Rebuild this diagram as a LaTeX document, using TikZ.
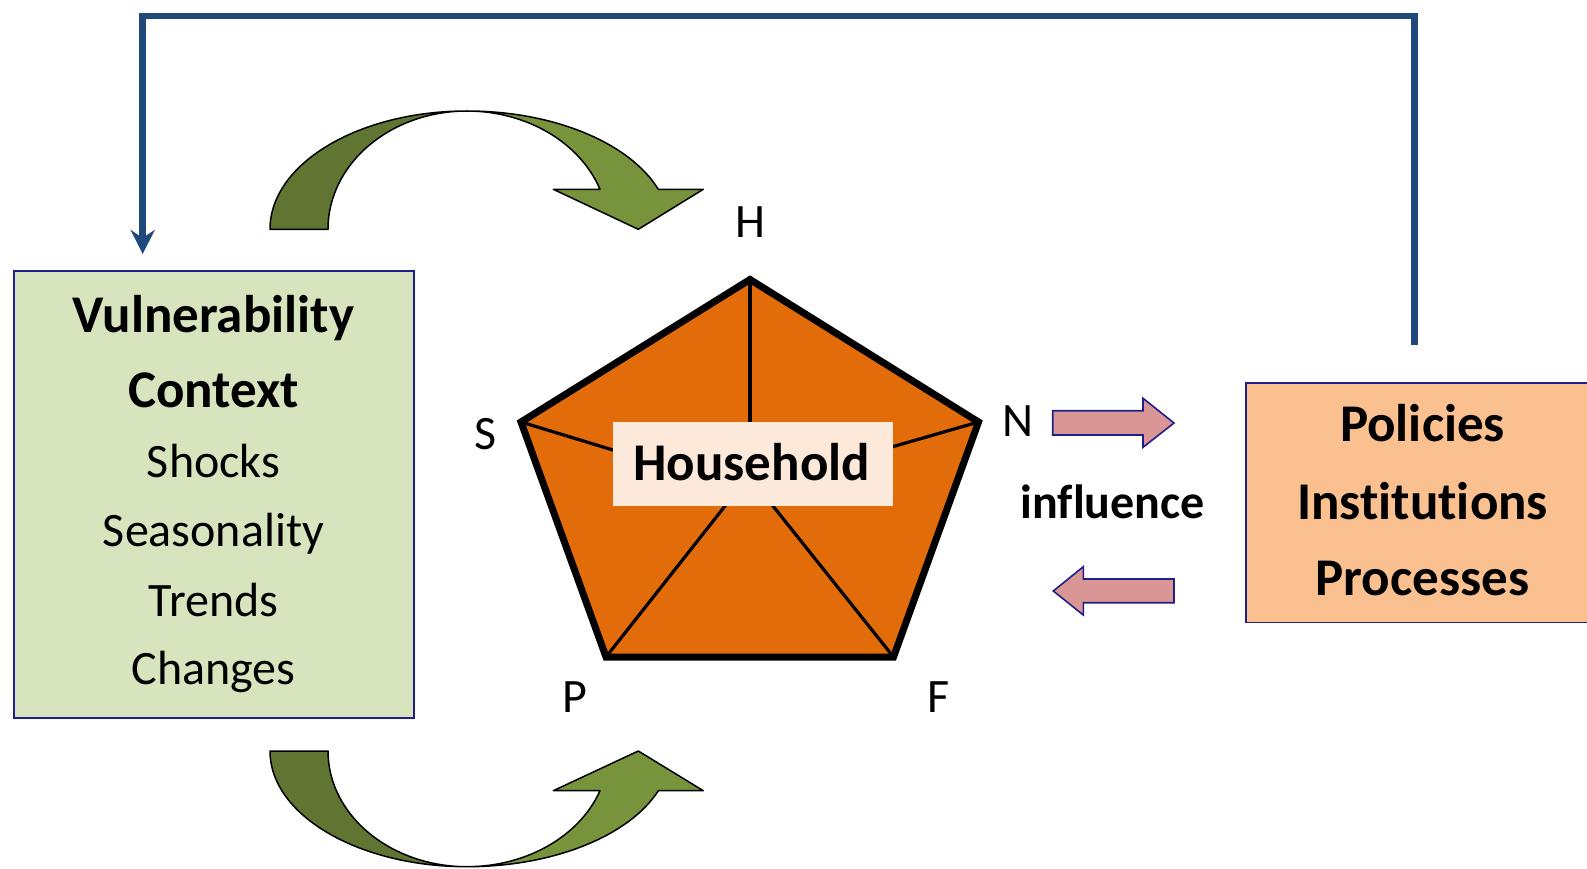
\documentclass[tikz,border=0pt]{standalone}
\usepackage{fontspec}
\setmainfont{Carlito}[Ligatures=NoCommon]
\usetikzlibrary{arrows.meta}
\definecolor{navyb}{RGB}{31,31,140}
\definecolor{vcfill}{RGB}{215,228,189}
\definecolor{pipfill}{RGB}{250,192,144}
\definecolor{pentorange}{RGB}{227,108,10}
\definecolor{hhfill}{RGB}{253,233,217}
\definecolor{pinkarr}{RGB}{217,150,148}
\definecolor{fbblue}{RGB}{31,73,125}
\definecolor{olivedark}{RGB}{96,117,49}
\definecolor{olivelight}{RGB}{119,147,60}
\begin{document}
\begin{tikzpicture}[x=1pt,y=1pt,
  boxstyle/.style={draw=navyb, line width=1.6pt, inner sep=0pt, outer sep=0pt, rectangle},
  boldtxt/.style={font=\fontsize{53}{60}\selectfont\bfseries, anchor=base, inner sep=0pt},
  regtxt/.style={font=\fontsize{48}{56}\selectfont, anchor=base, inner sep=0pt},
  greenpart/.style={draw=black, line width=1.5pt, line join=round},
  pinkshape/.style={fill=pinkarr, draw=navyb, line width=1.6pt, line join=miter},
  spoke/.style={draw=black, line width=3.2pt},
  feedback/.style={draw=fbblue, line width=6.5pt, line join=miter, -{Stealth[length=24pt,width=24pt,inset=8pt]}}
]
\useasboundingbox (0,0) rectangle (1587,-869);
\fill[white] (0,0) rectangle (1587,-869);

% boxes
\node[boxstyle, fill=vcfill, minimum width=400pt, minimum height=447pt] (vc) at (214,-494.5) {};
\node[boxstyle, fill=pipfill, minimum width=346.3pt, minimum height=239.6pt] (pip) at (1418.85,-502.5) {};

% texts in left box
\node[boldtxt] (tVul) at (213.5,-332) {Vulnerability};
\node[boldtxt] (tCon) at (213.5,-407) {Context};
\node[regtxt] (tSho) at (213.5,-477) {Shocks};
\node[regtxt] (tSea) at (213.5,-546) {Seasonality};
\node[regtxt] (tTre) at (213.5,-616.5) {Trends};
\node[regtxt] (tCha) at (213.5,-684.5) {Changes};

% texts in right box
\node[boldtxt] (tPol) at (1422.5,-441.7) {Policies};
\node[boldtxt] (tIns) at (1422.5,-519.3) {Institutions};
\node[boldtxt] (tPro) at (1422.5,-595) {Processes};

% feedback connector
\coordinate (fbStart) at (1414.7,-345);
\coordinate (fbEnd) at (142.7,-254);
\coordinate (fbTop) at (0,-16);
\draw[feedback] (fbStart) -- (fbStart |- fbTop) -- (fbEnd |- fbTop) -- (fbEnd);

% pentagon
\coordinate (vH) at (750,-279.5);
\coordinate (vS) at (521,-422);
\coordinate (vN) at (978.5,-422);
\coordinate (vP) at (606,-657);
\coordinate (vF) at (893.5,-657);
\fill[pentorange] (vH) -- (vN) -- (vF) -- (vP) -- (vS) -- cycle;
\coordinate (eS) at (650,-461.3);
\coordinate (eN) at (850,-459);
\coordinate (eH) at (750,-470);
\coordinate (eP) at (740,-487);
\coordinate (eF) at (757,-486);
\draw[spoke] (vS) -- (eS);
\draw[spoke] (vN) -- (eN);
\draw[spoke] (vH) -- (eH);
\draw[spoke] (vP) -- (eP);
\draw[spoke] (vF) -- (eF);
\draw[black, line width=7pt, line join=miter] (vH) -- (vN) -- (vF) -- (vP) -- (vS) -- cycle;

\node[fill=hhfill, inner sep=0pt, minimum width=279.4pt, minimum height=83.4pt] (hh) at (753,-464) {};
\node[boldtxt] (tHH) at (751.7,-480.7) {Household};

% vertex labels
\node[regtxt] (lH) at (750,-237) {H};
\node[regtxt] (lS) at (486,-449.3) {S};
\node[regtxt] (lN) at (1018,-436.7) {N};
\node[regtxt] (lP) at (574.6,-712.3) {P};
\node[regtxt] (lF) at (938.6,-712.3) {F};

% influence
\node[font=\fontsize{48}{56}\selectfont\bfseries, anchor=base, inner sep=0pt] (tInf) at (1112.7,-518.3) {influence};
\draw[pinkshape] (1052.7,-410.7) -- (1143,-410.7) -- (1143,-398.3) -- (1174,-423) -- (1143,-447.3) -- (1143,-435) -- (1052.7,-435) -- cycle;
\draw[pinkshape] (1174,-579) -- (1083.3,-579) -- (1083.3,-566.7) -- (1053.3,-591) -- (1083.3,-615) -- (1083.3,-602.7) -- (1174,-602.7) -- cycle;

% top curved arrow
\draw[greenpart, fill=olivedark] (270,-229.3) arc[start angle=180, end angle=90, x radius=197pt, y radius=118.3pt]
  arc[start angle=90, end angle=180, x radius=139pt, y radius=118.3pt] -- cycle;
\draw[greenpart, fill=olivelight] (467,-111) arc[start angle=90, end angle=19.77, x radius=203.3pt, y radius=118.3pt]
  -- (703.3,-189.3) -- (638.3,-229.3) -- (553.3,-189.3) -- (600,-189.3)
  arc[start angle=19.77, end angle=90, x radius=141.3pt, y radius=118.3pt] -- cycle;

% bottom curved arrow
\draw[greenpart, fill=olivedark] (270,-751) arc[start angle=180, end angle=270, x radius=197pt, y radius=115.7pt]
  arc[start angle=270, end angle=180, x radius=139pt, y radius=115.7pt] -- cycle;
\draw[greenpart, fill=olivelight] (467,-866.7) arc[start angle=270, end angle=339.93, x radius=203.7pt, y radius=115.7pt]
  -- (703.3,-790.7) -- (638.3,-751) -- (553.3,-790.7) -- (600,-790.7)
  arc[start angle=339.93, end angle=270, x radius=141.6pt, y radius=115.7pt] -- cycle;
\end{tikzpicture}
\end{document}
